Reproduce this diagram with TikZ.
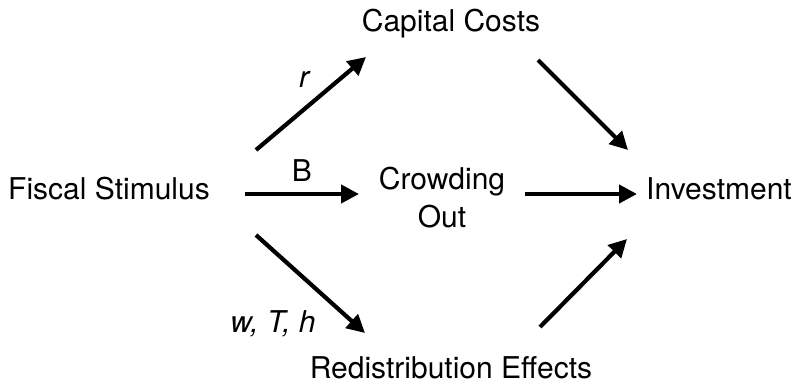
\documentclass[tikz,border=0pt]{standalone}
\usepackage{fontspec}
\setmainfont{TeX Gyre Heros}
\usetikzlibrary{arrows.meta}
\tikzset{
  lbl/.style={font=\fontsize{30}{37}\selectfont, inner sep=0pt, anchor=base},
  edgelbl/.style={font=\fontsize{30}{37}\selectfont, inner sep=0pt, anchor=base},
  conn/.style={line width=4.2pt, -{Triangle[length=18pt,width=18pt]}}
}
\begin{document}
\begin{tikzpicture}[x=1pt,y=-1pt]
\useasboundingbox (0,0) rectangle (798,390);
% nodes
\node[lbl] (cap) at (451,32) {Capital Costs};
\node[lbl] (fis) at (109,200) {Fiscal Stimulus};
\node[lbl] (crowd1) at (442,190) {Crowding};
\node[lbl] (crowd2) at (442,228) {Out};
\node[lbl] (inv) at (719,200) {Investment};
\node[lbl] (red) at (451,378) {Redistribution Effects};
% edge labels
\node[edgelbl] (lr) at (304,88) {\itshape r};
\node[edgelbl] (lb) at (302,182) {B};
\node[edgelbl] (lw) at (273,332) {\itshape w, T, h};
% connector ends
\coordinate (a1s) at (256,150); \coordinate (a1e) at (366,57);
\coordinate (a2s) at (245,194); \coordinate (a2e) at (359,194);
\coordinate (a3s) at (256,235); \coordinate (a3e) at (365,333);
\coordinate (a4s) at (538,60);  \coordinate (a4e) at (628,150);
\coordinate (a5s) at (525,194); \coordinate (a5e) at (637,194);
\coordinate (a6s) at (540,327); \coordinate (a6e) at (627,239);
\draw[conn] (a1s) -- (a1e);
\draw[conn] (a2s) -- (a2e);
\draw[conn] (a3s) -- (a3e);
\draw[conn] (a4s) -- (a4e);
\draw[conn] (a5s) -- (a5e);
\draw[conn] (a6s) -- (a6e);
\end{tikzpicture}
\end{document}
